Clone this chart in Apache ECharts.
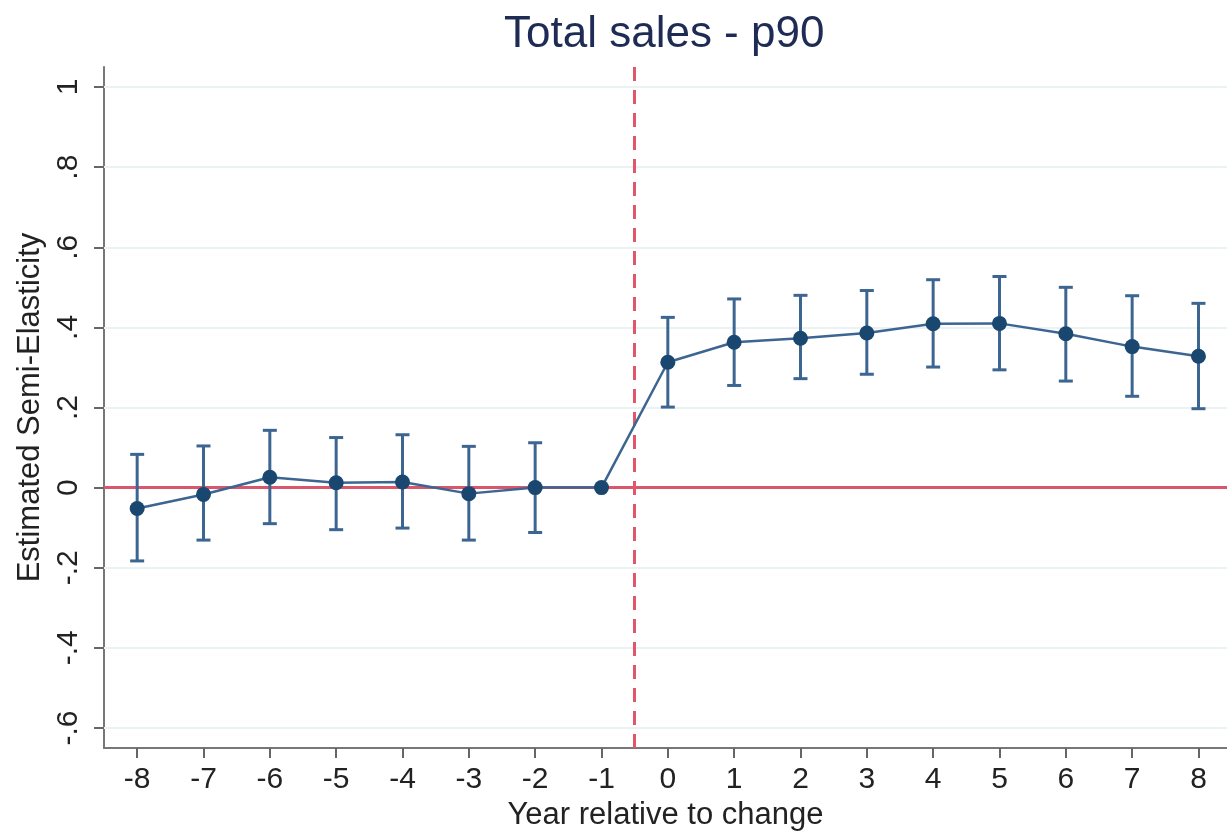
<!DOCTYPE html>
<html><head><meta charset="utf-8">
<script src="https://cdn.jsdelivr.net/npm/echarts@6/dist/echarts.min.js"></script>
<style>html,body{margin:0;padding:0;background:#fff}#c{width:1227px;height:836px}</style>
</head><body><div id="c"></div>
<script>
const years = [-8,-7,-6,-5,-4,-3,-2,-1,0,1,2,3,4,5,6,7,8];
const estimates = [-0.052,-0.017,0.026,0.012,0.014,-0.015,0.0,0.0,0.313,0.363,0.373,0.386,0.409,0.410,0.384,0.352,0.328];
const ciUpper = [0.083,0.104,0.143,0.125,0.132,0.103,0.112,null,0.425,0.471,0.480,0.492,0.519,0.527,0.500,0.479,0.460];
const ciLower = [-0.183,-0.131,-0.090,-0.105,-0.101,-0.131,-0.112,null,0.201,0.255,0.272,0.283,0.301,0.294,0.266,0.228,0.197];
const yTicks = [-0.6,-0.4,-0.2,0,0.2,0.4,0.6,0.8,1];
const xTicks = years;
const treatmentLine = -0.5;

const navy = '#1a476f';
const font = 'Liberation Sans, Arial, sans-serif';
const fmtY = v => { if (Math.abs(v) < 1e-9) return '0'; let s = String(+v.toFixed(2)); return s.replace(/^(-?)0\./, '$1.'); };

const chart = echarts.init(document.getElementById('c'));
const ciData = years.map((x,i)=>[x, ciLower[i], ciUpper[i]]).filter(d=>d[1]!==null);
chart.setOption({
  animation:false,
  backgroundColor:'#fff',
  title:{text:'Total sales - p90', left:499, top:8,
    textStyle:{color:'#1e2b55', fontSize:44, fontWeight:'normal', fontFamily:font}},
  grid:{left:104, right:0, top:67, bottom:88, containLabel:false, outerBoundsMode:'none'},
  xAxis:{type:'value', min:-8.5, max:8.43,
    name:'Year relative to change', nameLocation:'middle', nameGap:52,
    nameTextStyle:{color:'#222', fontSize:31, fontFamily:font},
    axisLine:{show:true, onZero:false, lineStyle:{color:'#777', width:2}},
    axisTick:{show:true, length:10, lineStyle:{color:'#666', width:2}, customValues:xTicks},
    axisLabel:{color:'#222', fontSize:30, margin:17, fontFamily:font, customValues:xTicks, formatter:v=>String(v)},
    splitLine:{show:false}},
  yAxis:{type:'value', min:-0.65, max:1.05,
    name:'Estimated Semi-Elasticity', nameLocation:'middle', nameGap:58, nameRotate:90,
    nameTextStyle:{color:'#222', fontSize:31, fontFamily:font},
    axisLine:{show:true, onZero:false, lineStyle:{color:'#777', width:2}},
    axisTick:{show:true, length:10, lineStyle:{color:'#666', width:2}, customValues:yTicks},
    axisLabel:{color:'#222', fontSize:30, margin:20, rotate:90, fontFamily:font, customValues:yTicks, formatter:fmtY},
    splitLine:{show:false}},
  series:[
    {type:'line', data:[], silent:true,
      markLine:{symbol:'none', silent:true, label:{show:false},
        lineStyle:{color:'#eaf2f3', width:2, type:'solid'},
        data: yTicks.filter(v=>v!==0).map(v=>({yAxis:v}))}},
    {type:'line', data:[], silent:true, z:3,
      markLine:{symbol:'none', silent:true, label:{show:false},
        data:[{yAxis:0, lineStyle:{color:'#d9576b', width:3, type:'solid'}},
              {xAxis:treatmentLine, lineStyle:{color:'#e0566b', width:3, type:[14,9]}}]}},
    {type:'custom', z:5, data:ciData,
      renderItem:(params, api)=>{
        const x = api.value(0);
        const lo = api.coord([x, api.value(1)]);
        const hi = api.coord([x, api.value(2)]);
        const hw = 7;
        const st = {stroke:'#3d6591', lineWidth:3};
        return {type:'group', children:[
          {type:'line', shape:{x1:lo[0], y1:lo[1], x2:hi[0], y2:hi[1]}, style:st},
          {type:'line', shape:{x1:lo[0]-hw, y1:lo[1], x2:lo[0]+hw, y2:lo[1]}, style:st},
          {type:'line', shape:{x1:hi[0]-hw, y1:hi[1], x2:hi[0]+hw, y2:hi[1]}, style:st}
        ]};
      }},
    {type:'line', z:6, data:years.map((x,i)=>[x, estimates[i]]),
      symbol:'circle', symbolSize:15, showSymbol:true,
      lineStyle:{color:'#3d6591', width:2.5}, itemStyle:{color:navy}}
  ]
});
</script></body></html>
